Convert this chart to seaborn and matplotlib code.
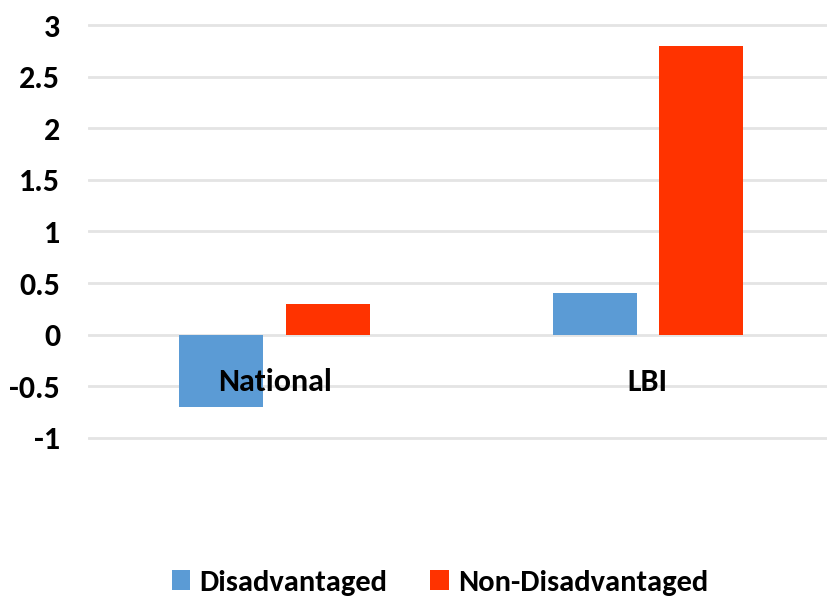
import matplotlib
matplotlib.use("Agg")
import matplotlib.pyplot as plt
import seaborn as sns
import pandas as pd
from matplotlib.patches import Patch

categories = ["National", "LBI"]
series_names = ["Disadvantaged", "Non-Disadvantaged"]
disadvantaged = [-0.7, 0.4]
non_disadvantaged = [0.3, 2.8]
y_ticks = [-1, -0.5, 0, 0.5, 1, 1.5, 2, 2.5, 3]
y_tick_labels = ["-1", "-0.5", "0", "0.5", "1", "1.5", "2", "2.5", "3"]
colors = ["#5B9BD5", "#FF3300"]

df = pd.DataFrame({
    "category": categories * 2,
    "group": [series_names[0]] * 2 + [series_names[1]] * 2,
    "value": disadvantaged + non_disadvantaged,
})

sns.set_style("white")
plt.rcParams["font.family"] = ["Carlito", "Lato", "DejaVu Sans"]
plt.rcParams["font.weight"] = "bold"
plt.rcParams["text.color"] = "black"
plt.rcParams["xtick.color"] = "black"
plt.rcParams["ytick.color"] = "black"

FS = 23
LFS = 22

fig = plt.figure(figsize=(8.27, 5.98), dpi=100)
ax = fig.add_axes([88 / 827, 1 - 440 / 598, 1 - 88 / 827, (440 - 23) / 598])

sns.barplot(data=df, x="category", y="value", hue="group", order=categories,
            hue_order=series_names, palette=colors, width=0.57, gap=0.21,
            ax=ax, saturation=1, legend=False, errorbar=None, linewidth=0)

for p in ax.patches:
    p.set_zorder(1)
for yt in y_ticks:
    ax.axhline(yt, color="#e4e4e4", linewidth=2, zorder=0)
ax.set_axisbelow(False)

ax.set_xlim(-0.5, 1.48)
ax.set_ylim(-1.02, 3.02)
ax.set_yticks(y_ticks)
ax.set_yticklabels(y_tick_labels, fontsize=FS, fontweight="bold")
ax.grid(False)
for s in ax.spines.values():
    s.set_visible(False)
ax.spines["bottom"].set_position(("data", 0))
ax.tick_params(axis="both", length=0)
ax.tick_params(axis="y", pad=20)
ax.tick_params(axis="x", pad=24)
for lbl in ax.get_xticklabels():
    lbl.set_fontsize(FS)
    lbl.set_fontweight("bold")
ax.set_xlabel("")
ax.set_ylabel("")

handles = [Patch(facecolor=c, edgecolor="none") for c in colors]
fig.legend(handles, series_names, loc="lower center", bbox_to_anchor=(0.532, -0.042),
           ncol=2, frameon=False, prop={"size": LFS, "weight": "bold"},
           handlelength=0.6, handleheight=0.6, handletextpad=0.3, columnspacing=1.4)

fig.savefig("out.png", dpi=100)
